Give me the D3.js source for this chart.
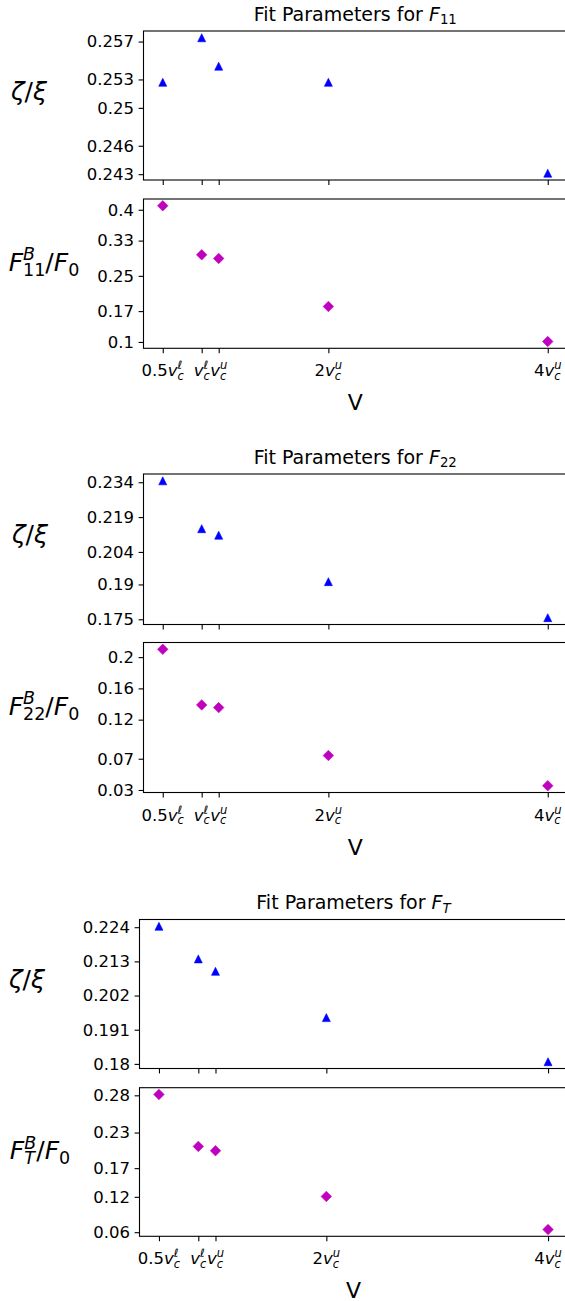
<!DOCTYPE html>
<html>
<head>
<meta charset="utf-8">
<script src="https://cdn.jsdelivr.net/npm/d3@7/dist/d3.min.js"></script>
<style>
  body { margin: 0; background: #fff; }
  text { font-family: "DejaVu Sans", sans-serif; fill: #000; white-space: pre; }
</style>
</head>
<body>
<svg id="chart"></svg>
<script>
// velocities, in units of v_c^u
const xVals = [0.49, 0.845, 1.0, 2.0, 4.0];
const xTickPre = ["0.5", "", "", "2", "4"];
const xTickSup = ["ℓ", "ℓ", "u", "u", "u"];

// F11
const zeta11 = [0.2527, 0.2574, 0.2544, 0.2527, 0.2431];
const fb11 = [0.409, 0.2977, 0.2895, 0.1805, 0.101];
const zeta11Ticks = [0.243, 0.246, 0.25, 0.253, 0.257];
const zeta11Labels = ["0.243", "0.246", "0.25", "0.253", "0.257"];
const fb11Ticks = [0.1, 0.17, 0.25, 0.33, 0.4];
const fb11Labels = ["0.1", "0.17", "0.25", "0.33", "0.4"];

// F22
const zeta22 = [0.2346, 0.2140, 0.2112, 0.1912, 0.1757];
const fb22 = [0.210, 0.1389, 0.1354, 0.0741, 0.0355];
const zeta22Ticks = [0.175, 0.19, 0.204, 0.219, 0.234];
const zeta22Labels = ["0.175", "0.19", "0.204", "0.219", "0.234"];
const fb22Ticks = [0.03, 0.07, 0.12, 0.16, 0.2];
const fb22Labels = ["0.03", "0.07", "0.12", "0.16", "0.2"];

// F_T
const zetaT = [0.2243, 0.2138, 0.2098, 0.1949, 0.1807];
const fbT = [0.282, 0.198, 0.191, 0.117, 0.0635];
const zetaTTicks = [0.18, 0.191, 0.202, 0.213, 0.224];
const zetaTLabels = ["0.18", "0.191", "0.202", "0.213", "0.224"];
const fbTTicks = [0.0592, 0.1164, 0.1628, 0.2204, 0.2806];
const fbTLabels = ["0.06", "0.12", "0.17", "0.23", "0.28"];

const W = 565, H = 1301;
const FS = 16.5;      // tick size
const TFS = 19;       // title size
const LFS = 25;       // axis label size

const svg = d3.select("#chart").attr("width", W).attr("height", H);

// draws a little mathtext-like label from pieces
// piece: {t, it, pos: "base"|"sup"|"sub", stack}
function mathText(parent, x, y, parts, size, anchor) {
  const g = parent.append("g");
  let cx = 0, prevX = 0, prevW = 0;
  parts.forEach(p => {
    const pos = p.pos || "base";
    const fs = pos == "base" ? size : size * 0.7;
    const dy = pos == "sup" ? -size * 0.42 : pos == "sub" ? size * 0.2 : 0;
    const start = p.stack ? prevX : cx;
    const t = g.append("text")
      .attr("x", start).attr("y", dy)
      .attr("font-size", fs)
      .style("font-style", p.it ? "italic" : "normal")
      .text(p.t);
    const w = t.node().getComputedTextLength();
    if (p.stack) {
      cx = prevX + Math.max(prevW, w);
    } else {
      prevX = start; prevW = w;
      cx = start + w;
    }
  });
  let sx = x;
  if (anchor == "middle") sx = x - cx / 2;
  if (anchor == "end") sx = x - cx;
  g.attr("transform", `translate(${sx},${y})`);
  return g;
}

function triPath(cx, cy, s) {
  const p = d3.path();
  p.moveTo(cx, cy - s / 2);
  p.lineTo(cx - s / 2, cy + s / 2);
  p.lineTo(cx + s / 2, cy + s / 2);
  p.closePath();
  return p.toString();
}
function diaPath(cx, cy, s) {
  const p = d3.path();
  p.moveTo(cx, cy - s / 2);
  p.lineTo(cx + s / 2, cy);
  p.lineTo(cx, cy + s / 2);
  p.lineTo(cx - s / 2, cy);
  p.closePath();
  return p.toString();
}

function padded(vals) {
  const [a, b] = d3.extent(vals);
  const m = (b - a) * 0.05;
  return [a - m, b + m];
}

const figs = [
  { sub: "11", subIt: false, top: [31, 180], bot: [199, 348.3], xr: [143.5, 567],
    zeta: zeta11, zt: zeta11Ticks, zl: zeta11Labels,
    fb: fb11, ft: fb11Ticks, fl: fb11Labels, zx: 29, fx: 44 },
  { sub: "22", subIt: false, top: [474, 624.5], bot: [642.5, 792.5], xr: [143.5, 567],
    zeta: zeta22, zt: zeta22Ticks, zl: zeta22Labels,
    fb: fb22, ft: fb22Ticks, fl: fb22Labels, zx: 30, fx: 44 },
  { sub: "T", subIt: true, top: [919.5, 1068.5], bot: [1087.7, 1236.3], xr: [139.5, 567.5],
    zeta: zetaT, zt: zetaTTicks, zl: zetaTLabels,
    fb: fbT, ft: fbTTicks, fl: fbTLabels, zx: 27, fx: 40 }
];

figs.forEach(f => {
  const x = d3.scaleLinear()
    .domain(padded(xVals))
    .range(f.xr);

  const panels = [
    { rows: f.top, vals: f.zeta, ticks: f.zt, labels: f.zl, marker: "tri", color: "#0000ff" },
    { rows: f.bot, vals: f.fb, ticks: f.ft, labels: f.fl, marker: "dia", color: "#bf00bf" }
  ];

  panels.forEach((p, pi) => {
    const y = d3.scaleLinear().domain(padded(p.vals)).range([p.rows[1], p.rows[0]]);
    const g = svg.append("g");

    // y axis
    const ya = g.append("g")
      .attr("transform", `translate(${f.xr[0]},0)`)
      .call(d3.axisLeft(y).tickValues(p.ticks)
        .tickFormat((d, i) => p.labels[i])
        .tickSize(4.9).tickPadding(4.5));
    ya.select(".domain").remove();
    ya.selectAll(".tick line").attr("stroke", "#000").attr("stroke-width", 1.1);
    ya.selectAll(".tick text").attr("font-size", FS).attr("font-family", "DejaVu Sans")
      .attr("fill", "#000");

    // x ticks
    const xa = g.append("g")
      .attr("transform", `translate(0,${p.rows[1]})`)
      .call(d3.axisBottom(x).tickValues(xVals).tickFormat("").tickSize(4.9));
    xa.select(".domain").remove();
    xa.selectAll(".tick line").attr("stroke", "#000").attr("stroke-width", 1.1);

    // frame
    g.append("rect")
      .attr("x", f.xr[0]).attr("y", p.rows[0])
      .attr("width", f.xr[1] - f.xr[0]).attr("height", p.rows[1] - p.rows[0])
      .attr("fill", "none").attr("stroke", "#000").attr("stroke-width", 1.1);

    // markers
    g.selectAll("path.pt")
      .data(p.vals)
      .enter()
      .append("path")
      .attr("class", "pt")
      .attr("d", (d, i) => p.marker == "tri"
        ? triPath(x(xVals[i]), y(d), 8)
        : diaPath(x(xVals[i]), y(d), 10.5))
      .attr("fill", p.color)
      .attr("stroke", p.color)
      .attr("stroke-width", 0.6);

    // y label, bottom sits at the axes middle
    const mid = (p.rows[0] + p.rows[1]) / 2;
    if (pi == 0) {
      mathText(g, f.zx, mid - 6, [
        { t: "ζ", it: true }, { t: "/" }, { t: "ξ", it: true }
      ], LFS, "middle");
    } else {
      mathText(g, f.fx, mid - 3, [
        { t: "F", it: true },
        { t: "B", it: true, pos: "sup" },
        { t: f.sub, it: f.subIt, pos: "sub", stack: true },
        { t: "/" }, { t: "F", it: true },
        { t: "0", pos: "sub" }
      ], LFS, "middle");
    }
  });

  // x tick labels under the lower panel
  xVals.forEach((v, i) => {
    const parts = [];
    if (xTickPre[i]) parts.push({ t: xTickPre[i] });
    parts.push({ t: "v", it: true });
    parts.push({ t: xTickSup[i], it: true, pos: "sup" });
    parts.push({ t: "c", it: true, pos: "sub", stack: true });
    mathText(svg, x(v), f.bot[1] + 28, parts, FS, "middle");
  });

  // x label
  svg.append("text")
    .attr("x", (f.xr[0] + f.xr[1]) / 2)
    .attr("y", f.bot[1] + 62)
    .attr("text-anchor", "middle")
    .attr("font-size", 22)
    .text("V");

  // title
  mathText(svg, (f.xr[0] + f.xr[1]) / 2, f.top[0] - 10.5, [
    { t: "Fit Parameters for " },
    { t: "F", it: true },
    { t: f.sub, it: f.subIt, pos: "sub" }
  ], TFS, "middle");
});
</script>
</body>
</html>
